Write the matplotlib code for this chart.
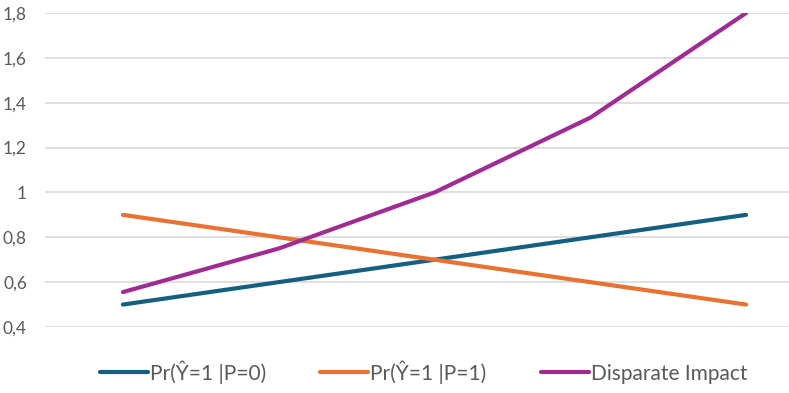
import matplotlib.pyplot as plt
from matplotlib.ticker import FuncFormatter

# data
steps = [0, 1, 2, 3, 4]
pr_p0 = [0.5, 0.6, 0.7, 0.8, 0.9]
pr_p1 = [0.9, 0.8, 0.7, 0.6, 0.5]
disparate = [0.5556, 0.75, 1.0, 1.3333, 1.8]

labels = ['Pr(\u0176=1 |P=0)', 'Pr(\u0176=1 |P=1)', 'Disparate Impact']
colors = ['#156082', '#E97132', '#A02B93']

plt.rcParams['font.family'] = ['Lato', 'DejaVu Sans']

fig = plt.figure(figsize=(7.89, 3.93), dpi=100)
ax = fig.add_axes([45 / 789, 66 / 393, 779 / 789, 314 / 393])

for ys, lab, c in zip([pr_p0, pr_p1, disparate], labels, colors):
    ax.plot(steps, ys, color=c, lw=3, label=lab, solid_capstyle='round')

ax.set_xlim(-0.5, 4.5)
ax.set_ylim(0.4, 1.8)
ax.set_yticks([0.4, 0.6, 0.8, 1.0, 1.2, 1.4, 1.6, 1.8])
ax.yaxis.set_major_formatter(FuncFormatter(lambda v, p: f'{v:g}'.replace('.', ',')))
ax.set_xticks([])
ax.grid(axis='y', color='#d9d9d9', lw=1.2)
ax.set_axisbelow(True)
for s in ax.spines.values():
    s.set_visible(False)
ax.tick_params(axis='y', length=0, pad=13, labelsize=12.5, labelcolor='#595959')

fig.legend(loc='center', bbox_to_anchor=(0.537, 21 / 393), ncol=3,
           frameon=False, fontsize=15, labelcolor='#595959', handlelength=2.3,
           handletextpad=0.1, columnspacing=2.6)

fig.savefig('out.png', dpi=100)
